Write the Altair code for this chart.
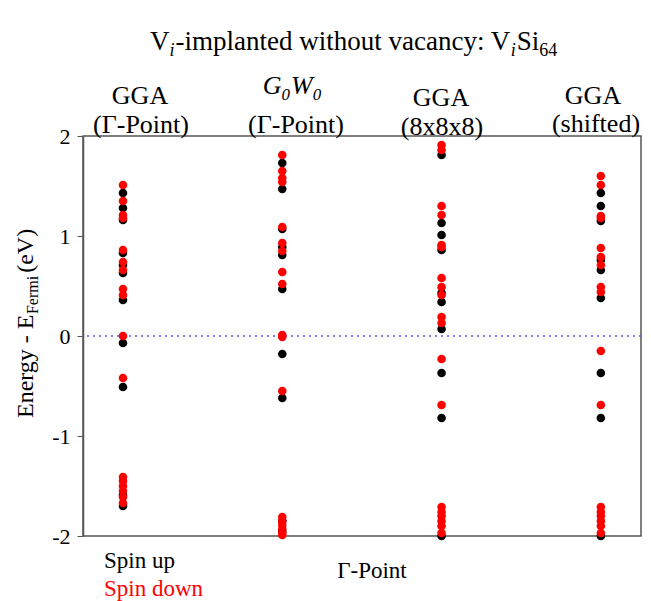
import altair as alt
import pandas as pd

# ---------------- data ----------------
methods = ["GGA (Γ-Point)", "G0W0 (Γ-Point)", "GGA (8x8x8)", "GGA (shifted)"]
col_pos = [0, 1, 2, 3]

spin_up = [
    [1.43, 1.28, 1.16, 0.83, 0.71, 0.63, 0.36, -0.07, -0.51, -1.59, -1.70],
    [1.73, 1.47, 1.07, 0.89, 0.81, 0.47, -0.18, -0.62, -1.85, -1.95],
    [1.81, 1.13, 1.01, 0.86, 0.43, 0.34, 0.07, -0.37, -0.82, -2.00],
    [1.43, 1.30, 1.15, 0.76, 0.66, 0.38, -0.37, -0.82, -2.00],
]
spin_down = [
    [1.51, 1.35, 1.21, 1.18, 0.86, 0.74, 0.66, 0.47, 0.41, 0.00, -0.42,
     -1.41, -1.45, -1.50, -1.55, -1.61, -1.67],
    [1.81, 1.65, 1.58, 1.54, 1.09, 0.93, 0.85, 0.64, 0.52, 0.01, -0.01, -0.55,
     -1.81, -1.85, -1.89, -1.93, -1.97, -1.99],
    [1.91, 1.86, 1.30, 1.21, 0.91, 0.89, 0.58, 0.49, 0.41, 0.19, 0.13, -0.23, -0.69,
     -1.71, -1.76, -1.80, -1.85, -1.90, -1.97],
    [1.60, 1.51, 1.20, 1.18, 0.88, 0.79, 0.71, 0.49, 0.44, -0.15, -0.69,
     -1.71, -1.76, -1.80, -1.85, -1.90, -1.97],
]
y_ticks = [-2, -1, 0, 1, 2]
fermi_level = [0]

# ---------------- tables ----------------
rows = []
for i, m in enumerate(methods):
    for v in spin_up[i]:
        rows.append({"col": col_pos[i], "E": v, "spin": "up"})
for i, m in enumerate(methods):
    for v in spin_down[i]:
        rows.append({"col": col_pos[i], "E": v, "spin": "down"})
df = pd.DataFrame(rows)

FONT = "Liberation Serif"
W, H = 558, 400
OX, OY = 83, 136  # plot origin on the page

# Times-like advance widths (per 1000 em)
ROMAN = {'V': 722, 'i': 278, '-': 333, 'm': 778, 'p': 500, 'l': 278, 'a': 444,
         'n': 500, 't': 278, 'e': 444, 'd': 500, ' ': 250, 'w': 722, 'h': 500,
         'o': 500, 'u': 500, 'v': 500, 'c': 444, 'y': 500, ':': 278, 'S': 556,
         '6': 500, '4': 500, 'E': 611, 'r': 333, 'g': 500, 'F': 556, '(': 333,
         ')': 333, 'G': 722, 'W': 833, '0': 500}
ITAL = dict(ROMAN)
ITAL.update({'G': 722, 'W': 833, '0': 500, 'i': 278})


def tw(s, size, italic=False):
    tab = ITAL if italic else ROMAN
    return sum(tab.get(ch, 500) for ch in s) * size / 1000.0


def text_layer(txt, x, y, size, italic=False, color="black", align="left", angle=0):
    kw = dict(align=align, baseline="alphabetic", font=FONT, fontSize=size,
              color=color, fontStyle="italic" if italic else "normal")
    if angle:
        kw["angle"] = angle
    return alt.Chart(pd.DataFrame({"t": [txt]})).mark_text(**kw).encode(
        x=alt.value(x - OX), y=alt.value(y - OY), text="t:N")


def run(parts, x0, y0, angle=0):
    """parts: (text, size, italic, baseline shift, color, extra gap after)"""
    layers = []
    pos = 0.0
    for txt, size, it, shift, color, gap in parts:
        if angle == 270:
            layers.append(text_layer(txt, x0 + shift, y0 - pos, size, it, color, angle=270))
        else:
            layers.append(text_layer(txt, x0 + pos, y0 + shift, size, it, color))
        pos += tw(txt, size, it) + gap
    return layers


xs = alt.Scale(domain=[-0.251, 3.252])
ys = alt.Scale(domain=[-2, 2])

fermi = alt.Chart(pd.DataFrame({"E": fermi_level})).mark_rule(
    color="#5555ff", strokeDash=[2, 4], strokeWidth=1.5).encode(
    y=alt.Y("E:Q", scale=ys))

base = alt.Chart(df).encode(
    x=alt.X("col:Q", scale=xs, axis=None),
    y=alt.Y("E:Q", scale=ys,
            axis=alt.Axis(values=y_ticks, title=None, grid=False, tickSize=6,
                          labelFontSize=22, labelFont=FONT, labelColor="black",
                          labelPadding=7, domainColor="#555", tickColor="#555",
                          domainWidth=1.5, labelExpr="'' + datum.value")),
)
up_pts = base.transform_filter("datum.spin == 'up'").mark_circle(
    size=74, opacity=1, color="black")
down_pts = base.transform_filter("datum.spin == 'down'").mark_circle(
    size=74, opacity=1, color="red")

layers = [fermi, up_pts, down_pts]

# title
T, S = 27, 18
layers += run([("V", T, False, 0, "black", 0), ("i", S, True, 6, "black", 1),
               ("-implanted without vacancy: V", T, False, 0, "black", 0),
               ("i", S, True, 6, "black", 1), ("Si", T, False, 0, "black", 0),
               ("64", S, False, 6, "black", 0)], 150, 50)

# column headers
HS = 26
layers.append(text_layer("GGA", 140, 104, HS, align="center"))
layers.append(text_layer("(Γ-Point)", 141, 133, HS, align="center"))
g0w0 = [("G", HS, True, 0, "black", 0), ("0", 17, True, 6, "black", 1),
        ("W", HS, True, 0, "black", 0), ("0", 17, True, 6, "black", 0)]
gw_w = sum(tw(p[0], p[1], p[2]) + p[5] for p in g0w0)
layers += run(g0w0, 292 - gw_w / 2, 94)
layers.append(text_layer("(Γ-Point)", 296, 133, HS, align="center"))
layers.append(text_layer("GGA", 441, 106, HS, align="center"))
layers.append(text_layer("(8x8x8)", 442, 135, HS, align="center"))
layers.append(text_layer("GGA", 593, 104, HS, align="center"))
layers.append(text_layer("(shifted)", 596, 132, HS, align="center"))

# y title (rotated)
layers += run([("Energy - E", 24, False, 0, "black", 0),
               ("Fermi", 16, False, 5, "black", 3),
               (" (eV)", 24, False, 0, "black", 0)], 33, 418, angle=270)

# bottom texts
layers.append(text_layer("Spin up", 104, 568, 23))
layers.append(text_layer("Spin down", 104, 596, 23, color="red"))
layers.append(text_layer("Γ-Point", 372, 578, 23, align="center"))

chart = alt.layer(*layers).properties(
    width=W, height=H,
    autosize=alt.AutoSizeParams(type="none"),
    padding={"left": OX, "top": OY, "right": 651 - OX - W, "bottom": 601 - OY - H},
).configure_view(stroke="#555", strokeWidth=1.5)

chart.save("out.html", embed_options={"renderer": "svg", "actions": False})
